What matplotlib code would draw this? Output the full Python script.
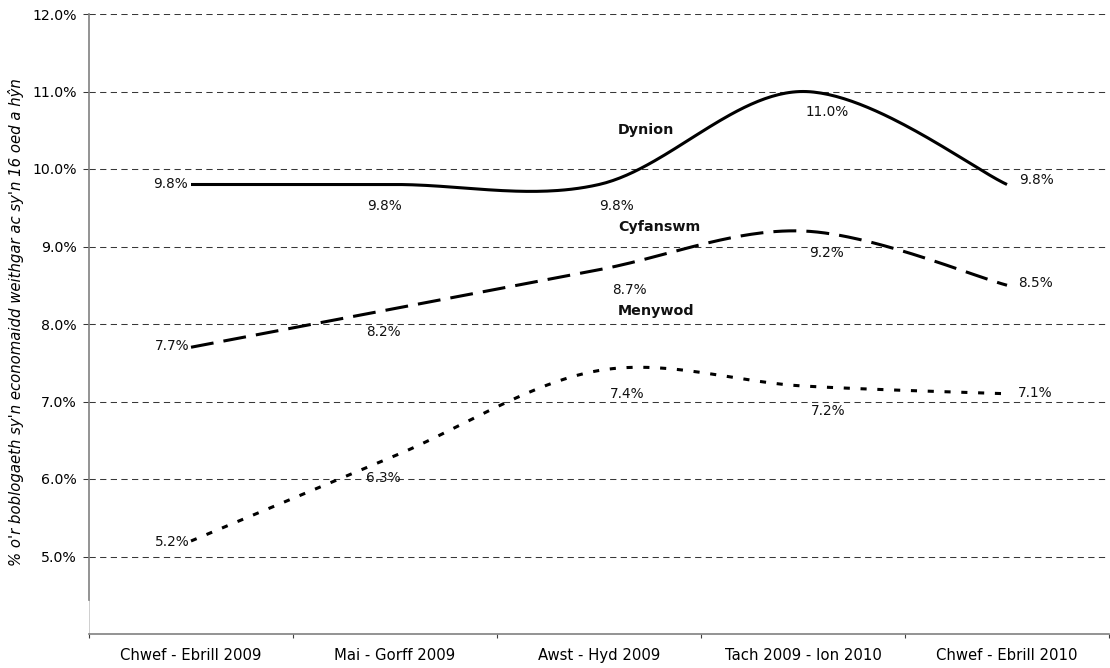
"""
Economic activity chart: Dynion / Cyfanswm / Menywod (smoothed lines)
"""
import matplotlib
matplotlib.use('Agg')
import matplotlib.pyplot as plt
import numpy as np

plt.rcParams['font.family'] = 'DejaVu Sans'
plt.rcParams['font.size'] = 10

# Data
categories = ['Chwef - Ebrill 2009', 'Mai - Gorff 2009', 'Awst - Hyd 2009',
              'Tach 2009 - Ion 2010', 'Chwef - Ebrill 2010']
dynion = [9.8, 9.8, 9.8, 11.0, 9.8]
cyfanswm = [7.7, 8.2, 8.7, 9.2, 8.5]
menywod = [5.2, 6.3, 7.4, 7.2, 7.1]
series_names = ['Dynion', 'Cyfanswm', 'Menywod']
y_ticks = [5, 6, 7, 8, 9, 10, 11, 12]
y_label = "% o'r boblogaeth sy'n economaidd weithgar ac sy'n 16 oed a hŷn"


def smooth(xs, ys, n=60):
    # Excel-style smoothed line (Catmull-Rom as cubic Bezier)
    xs = np.asarray(xs, float)
    ys = np.asarray(ys, float)
    px = np.concatenate([[xs[0]], xs, [xs[-1]]])
    py = np.concatenate([[ys[0]], ys, [ys[-1]]])
    out_x, out_y = [], []
    t = np.linspace(0, 1, n)
    for i in range(1, len(px) - 2):
        p0 = np.array([px[i], py[i]])
        p3 = np.array([px[i + 1], py[i + 1]])
        c1 = p0 + (p3 - np.array([px[i - 1], py[i - 1]])) / 6.0
        c2 = p3 - (np.array([px[i + 2], py[i + 2]]) - p0) / 6.0
        b = ((1 - t) ** 3)[:, None] * p0 + (3 * (1 - t) ** 2 * t)[:, None] * c1 \
            + (3 * (1 - t) * t ** 2)[:, None] * c2 + (t ** 3)[:, None] * p3
        out_x.extend(b[:, 0])
        out_y.extend(b[:, 1])
    return np.array(out_x), np.array(out_y)


fig = plt.figure(figsize=(11.10, 6.68), dpi=100)
ax = fig.add_axes([89 / 1110, 1 - 634 / 668, 1020 / 1110, 620 / 668])

x = np.arange(1, len(categories) + 1)

# gridlines
for yv in y_ticks:
    ax.axhline(yv, color='#383838', lw=0.75, dashes=(6.0, 4.2), zorder=1)

styles = [
    dict(ls='-'),
    dict(dashes=(7.5, 3.3)),
    dict(dashes=(2.0, 3.5)),
]
lw = 2.2
for vals, st in zip([dynion, cyfanswm, menywod], styles):
    sx, sy = smooth(x, vals)
    ax.plot(sx, sy, color='black', lw=lw, zorder=3, solid_capstyle='butt',
            dash_capstyle='butt', **st)

# data labels: offsets in pixels (left end, middle points below, right end)
offsets = [
    [(-3, 0), (-10, -21), (17, -21), (24, -21), (12, 4)],
    [(-2, 1), (-12, -23), (30, -20), (23, -22), (11, 2)],
    [(-1, -1), (-12, -22), (28, -23), (25, -25), (11, 1)],
]
for vals, offs in zip([dynion, cyfanswm, menywod], offsets):
    for i, (xv, yv) in enumerate(zip(x, vals)):
        ha = 'right' if i == 0 else ('left' if i == len(x) - 1 else 'center')
        ax.annotate('%.1f%%' % yv, xy=(xv, yv), xytext=offs[i],
                    textcoords='offset pixels', ha=ha, va='center',
                    fontsize=9.8, color='#111111', zorder=4)

# series names
name_y = [10.5, 9.256, 8.167]
for name, yv in zip(series_names, name_y):
    ax.text(3.093, yv, name, fontsize=10.3, fontweight='bold', ha='left',
            va='center', color='#111111')

# axes
ax.set_xlim(0.5, len(categories) + 0.5)
ax.set_ylim(4, 12)
ax.set_yticks(y_ticks)
ax.set_yticklabels(['%.1f%%' % v for v in y_ticks], fontsize=10.2)
ax.tick_params(axis='y', length=4.3, width=0.75, color='#383838', pad=4.5)

ax.set_xticks(np.arange(0.5, len(categories) + 1, 1))
ax.set_xticklabels([])
ax.set_xticks(x, minor=True)
ax.set_xticklabels(categories, minor=True, fontsize=10.7)
ax.tick_params(axis='x', which='major', length=3, width=0.8, color='#404040')
ax.tick_params(axis='x', which='minor', length=0, pad=10)

for s in ['top', 'right']:
    ax.spines[s].set_visible(False)
ax.spines['left'].set_color('#808080')
ax.spines['left'].set_linewidth(1.2)
ax.spines['left'].set_bounds(4.44, 12)
ax.spines['bottom'].set_color('#808080')
ax.spines['bottom'].set_linewidth(1.2)
ax.plot([0.5, 0.5], [4, 4.44], color='#c8c8c8', lw=0.6, clip_on=False, zorder=2)

ax.set_ylabel(y_label, fontsize=10.7, fontstyle='italic')
ax.yaxis.set_label_coords(-0.0637, 0.503)

fig.savefig('out.png', dpi=100, facecolor='white')
